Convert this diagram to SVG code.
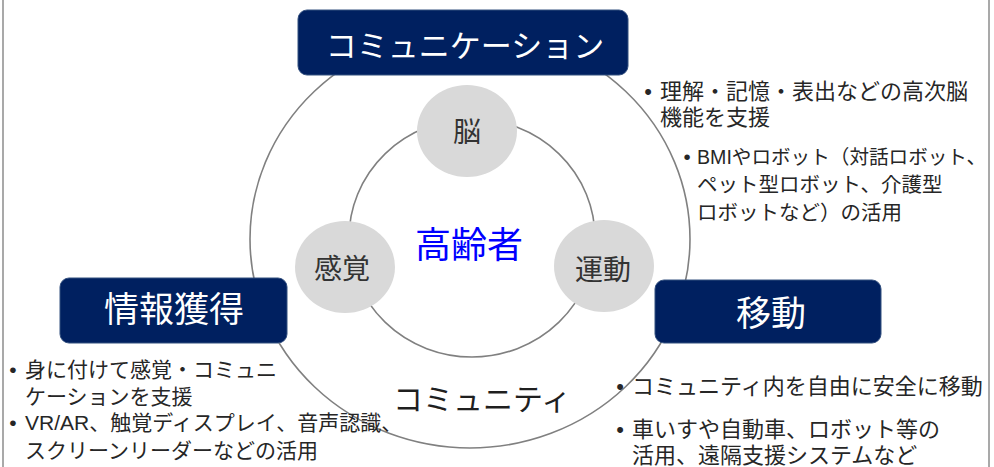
<svg xmlns="http://www.w3.org/2000/svg" width="994" height="467" viewBox="0 0 994 467">
<style>
.ring{fill:none;stroke:#808080;stroke-width:1.6}
.frame{stroke:#8c8c8c;stroke-width:1.5}
.box{fill:#002060;stroke:#33507f;stroke-width:1}
.bt{fill:#ffffff;font-family:"Liberation Sans","Noto Sans CJK JP",sans-serif;text-anchor:middle}
.dot{fill:#d9d9d9}
.ct{fill:#333333;font-family:"Liberation Sans","Noto Sans CJK JP",sans-serif;font-size:28px;text-anchor:middle}
.t{fill:#262626;font-family:"Liberation Sans","Noto Sans CJK JP",sans-serif}
.m{font-size:22px}
.s{font-size:20.5px}
.l{font-size:21px}
</style>
<g id="frame">
<line class="frame" x1="3" y1="0" x2="3" y2="467"/>
<line class="frame" x1="989" y1="0" x2="989" y2="467"/>
</g>
<g id="connectors">
<ellipse id="outer-ring" class="ring" cx="470" cy="239" rx="220" ry="209"/>
<ellipse id="inner-ring" class="ring" cx="472" cy="238" rx="123" ry="119"/>
</g>
<g id="node-brain">
<ellipse class="dot" cx="467" cy="131" rx="50" ry="46"/>
<text class="ct" x="467" y="142">脳</text>
</g>
<g id="node-sense">
<ellipse class="dot" cx="345" cy="267" rx="50" ry="46"/>
<text class="ct" x="342" y="279">感覚</text>
</g>
<g id="node-motion">
<ellipse class="dot" cx="604" cy="266" rx="50" ry="46"/>
<text class="ct" x="603" y="280">運動</text>
</g>
<g id="node-elderly">
<text x="469" y="258" style="fill:#0000ff;font-family:'Liberation Sans','Noto Sans CJK JP',sans-serif;font-size:36px;text-anchor:middle">高齢者</text>
</g>
<g id="node-community">
<text class="t" x="393" y="410" style="font-size:30px;fill:#1f1f1f">コミュニティ</text>
</g>
<g id="node-communication">
<rect class="box" x="298" y="10" width="330" height="65" rx="9"/>
<text class="bt" x="465" y="57" style="font-size:31px">コミュニケーション</text>
<text class="t m" x="648" y="99" text-anchor="middle">•</text>
<text class="t m" x="660" y="99">理解・記憶・表出などの高次脳</text>
<text class="t m" x="660" y="125">機能を支援</text>
<text class="t s" x="687" y="164" text-anchor="middle">•</text>
<text class="t" x="697" y="164" style="font-size:19.6px">BMIやロボット（対話ロボット、</text>
<text class="t s" x="697" y="192">ペット型ロボット、介護型</text>
<text class="t s" x="697" y="220">ロボットなど）の活用</text>
</g>
<g id="node-info">
<rect class="box" x="60" y="278" width="227" height="65" rx="9"/>
<text class="bt" x="174" y="322" style="font-size:35px">情報獲得</text>
<text class="t l" x="13" y="377" text-anchor="middle">•</text>
<text class="t l" x="25" y="377">身に付けて感覚・コミュニ</text>
<text class="t l" x="25" y="404">ケーションを支援</text>
<text class="t l" x="13" y="430" text-anchor="middle">•</text>
<text class="t l" x="25" y="430">VR/AR、触覚ディスプレイ、音声認識、</text>
<text class="t l" x="25" y="458">スクリーンリーダーなどの活用</text>
</g>
<g id="node-mobility">
<rect class="box" x="655" y="280" width="226" height="63" rx="9"/>
<text class="bt" x="771" y="326" style="font-size:35px">移動</text>
<text class="t m" x="620" y="394" text-anchor="middle">•</text>
<text class="t m" x="632" y="394">コミュニティ内を自由に安全に移動</text>
<text class="t m" x="620" y="437" text-anchor="middle">•</text>
<text class="t m" x="632" y="437">車いすや自動車、ロボット等の</text>
<text class="t m" x="632" y="463">活用、遠隔支援システムなど</text>
</g>
</svg>
